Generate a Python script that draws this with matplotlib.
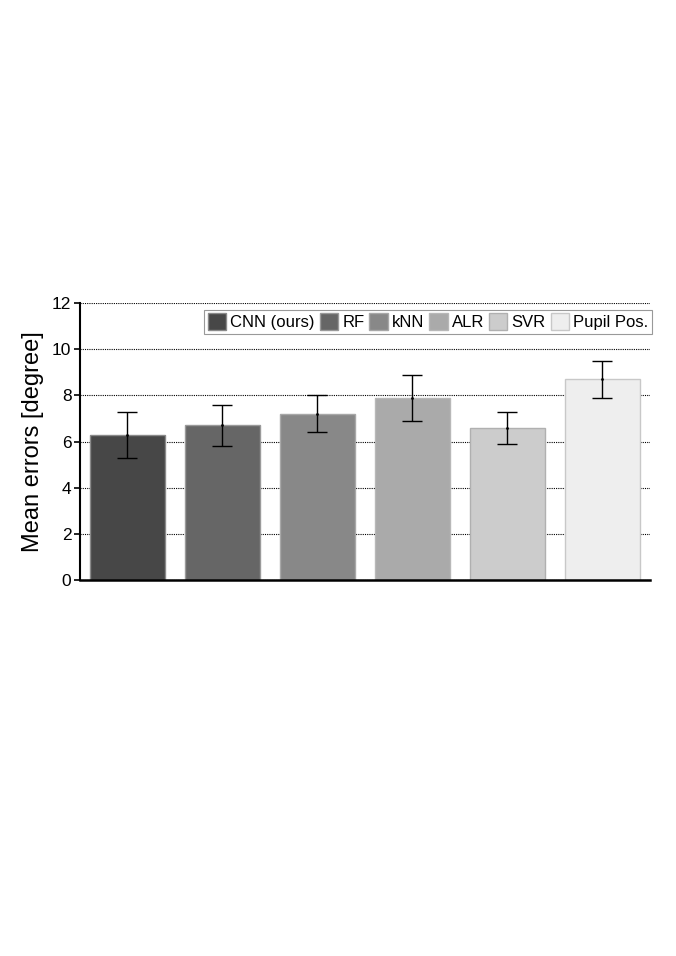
import numpy as np
import matplotlib
matplotlib.use("Agg")
import matplotlib.pyplot as plt

plt.rcParams['font.family'] = ['Liberation Sans', 'DejaVu Sans']

methods = ["CNN (ours)", "RF", "kNN", "ALR", "SVR", "Pupil Pos."]
means = [6.3, 6.7, 7.2, 7.9, 6.6, 8.7]
errs = [1.0, 0.9, 0.8, 1.0, 0.7, 0.8]
colors = ["#474747", "#666666", "#888888", "#aaaaaa", "#cccccc", "#eeeeee"]
edges = ["#8a8a8a", "#9a9a9a", "#a8a8a8", "#b8b8b8", "#b0b0b0", "#c8c8c8"]

fig = plt.figure(figsize=(6.76, 9.56), dpi=100)
ax = fig.add_axes([0.118, 0.3933, 0.8435, 0.2897])

x = np.arange(len(methods))
for i in range(len(methods)):
    ax.bar(x[i], means[i], width=0.79, color=colors[i], edgecolor=edges[i],
           linewidth=1, label=methods[i], zorder=2)
    ax.errorbar(x[i], means[i], yerr=errs[i], fmt='.', ms=2, color='black',
                ecolor='black', elinewidth=1, capsize=7, capthick=1, zorder=3)

ax.set_xlim(-0.5, 5.5)
ax.set_ylim(0, 12)
ax.set_yticks(range(0, 13, 2))
ax.set_xticks([])
ax.yaxis.grid(True, linestyle=(0, (1, 1)), color='black', linewidth=0.8, zorder=0)
ax.set_axisbelow(True)
for s in ['top', 'right']:
    ax.spines[s].set_visible(False)
ax.spines['left'].set_linewidth(1.5)
ax.spines['bottom'].set_linewidth(1.8)
ax.tick_params(axis='y', labelsize=12.5, length=4, width=1.2, direction='out', pad=2)
ax.set_ylabel("Mean errors [degree]", fontsize=17, labelpad=6)

leg = ax.legend(ncol=6, loc='upper right', bbox_to_anchor=(1.003, 0.975),
                fontsize=12, handlelength=1.1, handleheight=1.15,
                handletextpad=0.25, columnspacing=0.3, borderpad=0.2,
                borderaxespad=0.0, fancybox=False, framealpha=1,
                edgecolor='#999999')
leg.get_frame().set_linewidth(0.8)

fig.savefig("out.png", dpi=100)
